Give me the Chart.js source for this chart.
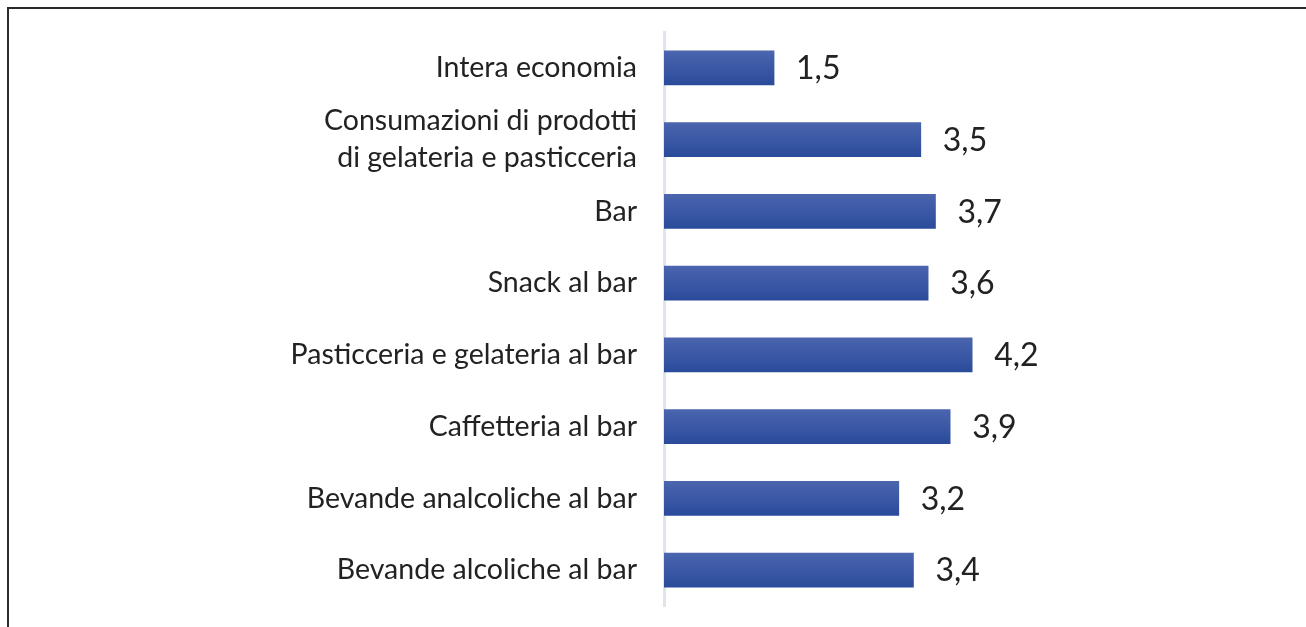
<!DOCTYPE html>
<html>
<head>
<meta charset="utf-8">
<script src="https://cdn.jsdelivr.net/npm/chart.js@4/dist/chart.umd.min.js"></script>
<style>
  html, body { margin: 0; padding: 0; background: #fff; }
  #wrap { position: relative; width: 1306px; height: 627px; overflow: hidden; }
  #frame { position: absolute; left: 7px; top: 7px; width: 1310px; height: 640px;
           border-top: 2px solid #2b2b2b; border-left: 2px solid #2b2b2b; }
  canvas { position: absolute; left: 0; top: 0; }
</style>
</head>
<body>
<div id="wrap">
  <div id="frame"></div>
  <canvas id="barChart" width="1306" height="627"></canvas>
</div>
<script>
// categorie e valori (%)
const categorie = [
    'Intera economia',
    ['Consumazioni di prodotti', 'di gelateria e pasticceria'],
    'Bar',
    'Snack al bar',
    'Pasticceria e gelateria al bar',
    'Caffetteria al bar',
    'Bevande analcoliche al bar',
    'Bevande alcoliche al bar'
];
const valori = [1.5, 3.5, 3.7, 3.6, 4.2, 3.9, 3.2, 3.4];

const fontFam = 'Lato, "Open Sans", sans-serif';

// gradiente verticale per ogni barra
function barGradient(context) {
    const chart = context.chart;
    const yScale = chart.scales.y;
    if (!chart.chartArea || !yScale || context.dataIndex === undefined) return '#3a58a5';
    const yc = yScale.getPixelForValue(context.dataIndex);
    const g = chart.ctx.createLinearGradient(0, yc - 17, 0, yc + 17);
    g.addColorStop(0, '#4b65ae');
    g.addColorStop(1, '#2a4b9b');
    return g;
}

// etichette dei valori a destra delle barre
const valueLabels = {
    id: 'valueLabels',
    afterDatasetsDraw(chart) {
        const ctx = chart.ctx;
        const meta = chart.getDatasetMeta(0);
        ctx.save();
        ctx.font = '32px ' + fontFam;
        ctx.fillStyle = '#222';
        ctx.textBaseline = 'middle';
        ctx.textAlign = 'left';
        meta.data.forEach((bar, i) => {
            const txt = valori[i].toFixed(1).replace('.', ',');
            ctx.fillText(txt, bar.x + 22, bar.y + 1);
        });
        ctx.restore();
    }
};

const ctx = document.getElementById('barChart').getContext('2d');
const barChart = new Chart(ctx, {
    type: 'bar',
    data: {
        labels: categorie,
        datasets: [{ data: valori, backgroundColor: barGradient, barThickness: 34, borderWidth: 0 }]
    },
    options: {
        indexAxis: 'y',
        responsive: false,
        animation: false,
        layout: { padding: { top: 32, bottom: 21, right: 55 } },
        plugins: { legend: { display: false }, tooltip: { enabled: false } },
        scales: {
            x: { display: false, min: 0, max: 8 },
            y: {
                grid: { display: false, drawTicks: false },
                border: { display: true, color: '#dfe3ec', width: 3 },
                afterFit(scale) {
                    scale.width = 664;
                    scale.paddingTop = 0;
                    scale.paddingBottom = 0;
                },
                ticks: {
                    autoSkip: false,
                    padding: 27,
                    color: '#222',
                    font: { family: fontFam, size: 28.5, lineHeight: 1.3 }
                }
            }
        }
    },
    plugins: [valueLabels]
});
</script>
</body>
</html>
